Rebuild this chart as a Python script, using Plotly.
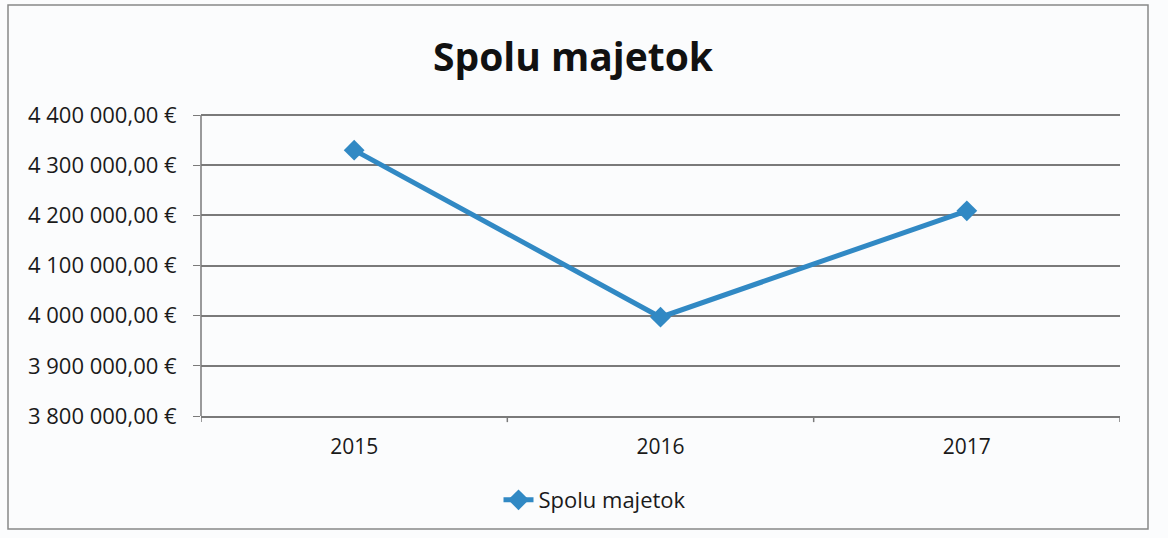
import plotly.graph_objects as go

years = ["2015", "2016", "2017"]
values = [4330000, 3997000, 4209000]
series_name = "Spolu majetok"
title_text = "Spolu majetok"
y_tickvals = [3800000, 3900000, 4000000, 4100000, 4200000, 4300000, 4400000]
y_ticktext = ["3 800 000,00 €", "3 900 000,00 €", "4 000 000,00 €", "4 100 000,00 €",
              "4 200 000,00 €", "4 300 000,00 €", "4 400 000,00 €"]

W, H = 1168, 538
L, R, T, B = 201, 1120, 110, 416
y_range = [3800000, 4410000]

line_color = "#3189c4"
font_family = "'Open Sans', Lato, sans-serif"
axis_gray = "#7a7a7a"

fig = go.Figure()
fig.add_trace(go.Scatter(
    x=years, y=values, name=series_name, mode="lines+markers",
    line=dict(color=line_color, width=5),
    marker=dict(symbol="diamond", size=16, color=line_color),
))

pw, ph = R - L, B - T
def px_x(p):
    return (p - L) / pw
def px_y(p):
    return (B - p) / ph

fig.update_layout(
    width=W, height=H,
    margin=dict(l=L, r=W - R, t=T, b=H - B, pad=0),
    paper_bgcolor="#fbfcfd", plot_bgcolor="#fbfcfd",
    font=dict(family=font_family, color="#1a1a1a", size=22),
    title=dict(text="<b>" + title_text + "</b>", x=573 / W, xanchor="center",
               y=1 - 57 / H, yanchor="middle", xref="container", yref="container",
               font=dict(size=39, family=font_family, color="#111")),
    showlegend=True,
    legend=dict(orientation="h", x=px_x(595), xanchor="center", y=px_y(500), yanchor="middle",
                font=dict(size=22), bgcolor="rgba(0,0,0,0)"),
    xaxis=dict(type="category", range=[-0.5, 2.5], showgrid=False,
               showline=True, linecolor=axis_gray, linewidth=1.5,
               ticks="", tickfont=dict(size=21), ticklabelstandoff=11, zeroline=False),
    yaxis=dict(range=y_range, tickvals=y_tickvals, ticktext=y_ticktext,
               showgrid=True, gridcolor=axis_gray, gridwidth=1.5,
               showline=False,
               ticks="outside", ticklen=7, tickcolor=axis_gray,
               ticklabelstandoff=12,
               tickfont=dict(size=22), zeroline=False),
)

# vertical value-axis line spanning only the tick range
fig.add_shape(type="line", xref="paper", yref="y", x0=0, x1=0,
              y0=y_tickvals[0], y1=y_tickvals[-1],
              line=dict(color=axis_gray, width=1.5))

# category boundary tick marks on x axis
for xb in [-0.5, 0.5, 1.5, 2.5]:
    fig.add_shape(type="line", xref="x", yref="paper", x0=xb, x1=xb, y0=0, y1=-0.02,
                  line=dict(color=axis_gray, width=1.5))

# chart outer border
fig.add_shape(type="rect", xref="paper", yref="paper",
              x0=px_x(8), x1=px_x(1148), y0=px_y(529), y1=px_y(5),
              line=dict(color="#888", width=1.5), fillcolor="rgba(0,0,0,0)", layer="below")

fig.write_html("out.html", config={"displayModeBar": False},
               post_script="document.body.style.margin='0';")
